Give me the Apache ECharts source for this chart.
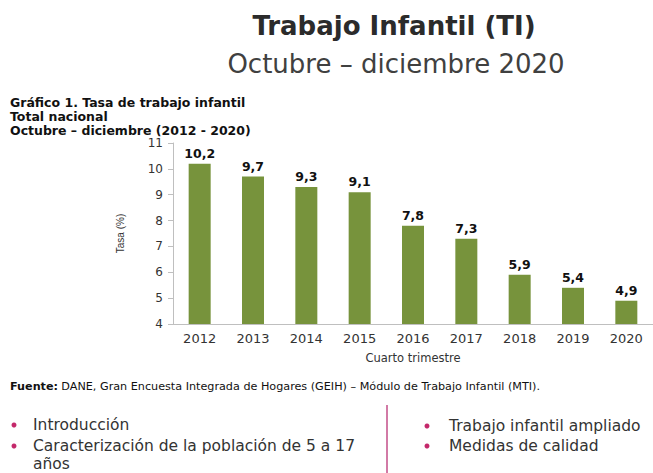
<!DOCTYPE html>
<html>
<head>
<meta charset="utf-8">
<script src="https://cdn.jsdelivr.net/npm/echarts@6/dist/echarts.min.js"></script>
<style>
  html, body { margin: 0; padding: 0; background: #fff; }
  #main { width: 653px; height: 473px; }
</style>
</head>
<body>
<div id="main"></div>
<script>
// datos del gráfico
var years = ['2012', '2013', '2014', '2015', '2016', '2017', '2018', '2019', '2020'];
var tasa = [10.2, 9.7, 9.3, 9.1, 7.8, 7.3, 5.9, 5.4, 4.9];
var bulletsLeft = ['Introducción', 'Caracterización de la población de 5 a 17', 'años'];
var bulletsRight = ['Trabajo infantil ampliado', 'Medidas de calidad'];

var chart = echarts.init(document.getElementById('main'), null, { renderer: 'svg' });
var font = '"DejaVu Sans", "Noto Sans", sans-serif';
var pink = '#c4286a';

function bulletText(x, y, txt) {
    return {
        type: 'text', x: x, y: y,
        style: { text: txt, fontSize: 15.5, lineHeight: 18, fontFamily: font, fill: '#333', verticalAlign: 'top' }
    };
}

var option = {
    backgroundColor: '#fff',
    textStyle: { fontFamily: font },
    title: [
        {
            text: 'Trabajo Infantil (TI)',
            left: 389, top: 8,
            textAlign: 'center',
            textStyle: { fontSize: 26, fontWeight: 'bold', color: '#2b2b2b', fontFamily: font }
        },
        {
            text: 'Octubre – diciembre 2020',
            left: 391, top: 46,
            textAlign: 'center',
            textStyle: { fontSize: 26, fontWeight: 'normal', color: '#404040', fontFamily: font }
        },
        {
            text: 'Gráfico 1. Tasa de trabajo infantil\nTotal nacional\nOctubre – diciembre (2012 - 2020)',
            left: 5, top: 90,
            textStyle: { fontSize: 12.5, fontWeight: 'bold', color: '#111', lineHeight: 14, fontFamily: font }
        }
    ],
    grid: { left: 173, right: 0, top: 143, bottom: 149 },
    xAxis: {
        type: 'category',
        data: years,
        name: 'Cuarto trimestre',
        nameLocation: 'middle',
        nameGap: 28,
        nameTextStyle: { fontSize: 11.5, color: '#333' },
        axisLine: { lineStyle: { color: '#bfbfbf' } },
        axisTick: { show: false },
        axisLabel: { fontSize: 13, color: '#333', margin: 8 }
    },
    yAxis: {
        type: 'value',
        min: 4, max: 11, interval: 1,
        name: 'Tasa (%)',
        nameLocation: 'middle',
        nameGap: 48,
        nameTextStyle: { fontSize: 10, color: '#333', fontFamily: '"Liberation Sans Narrow", "Liberation Sans", sans-serif' },
        axisLine: { show: true, lineStyle: { color: '#bfbfbf' } },
        axisTick: { show: true, length: 5, lineStyle: { color: '#bfbfbf' } },
        splitLine: { show: false },
        axisLabel: { fontSize: 12, color: '#333', margin: 10 }
    },
    series: [{
        type: 'bar',
        data: tasa,
        barWidth: 22,
        itemStyle: { color: '#77933c' },
        label: {
            show: true,
            position: 'top',
            distance: 4,
            fontSize: 12.5,
            fontWeight: 'bold',
            color: '#111',
            formatter: function (p) { return String(p.value).replace('.', ','); }
        }
    }],
    graphic: [
        {
            type: 'text', left: 10, top: 380,
            style: {
                rich: {
                    b: { fontWeight: 'bold', fontSize: 11.2, fontFamily: font, fill: '#111' },
                    n: { fontSize: 11.2, fontFamily: font, fill: '#111' }
                },
                text: '{b|Fuente:} {n|DANE, Gran Encuesta Integrada de Hogares (GEIH) – Módulo de Trabajo Infantil (MTI).}'
            }
        },
        { type: 'line', shape: { x1: 387, y1: 405, x2: 387, y2: 473 }, style: { stroke: '#d27aa6', lineWidth: 2 } },
        { type: 'circle', shape: { cx: 14, cy: 425, r: 2.5 }, style: { fill: pink } },
        { type: 'circle', shape: { cx: 14, cy: 446, r: 2.5 }, style: { fill: pink } },
        { type: 'circle', shape: { cx: 427, cy: 426, r: 2.5 }, style: { fill: pink } },
        { type: 'circle', shape: { cx: 427, cy: 446, r: 2.5 }, style: { fill: pink } },
        bulletText(33, 416, bulletsLeft[0]),
        bulletText(33, 437, bulletsLeft[1] + '\n' + bulletsLeft[2]),
        bulletText(449, 417, bulletsRight[0]),
        bulletText(449, 437, bulletsRight[1])
    ]
};

chart.setOption(option);
</script>
</body>
</html>
